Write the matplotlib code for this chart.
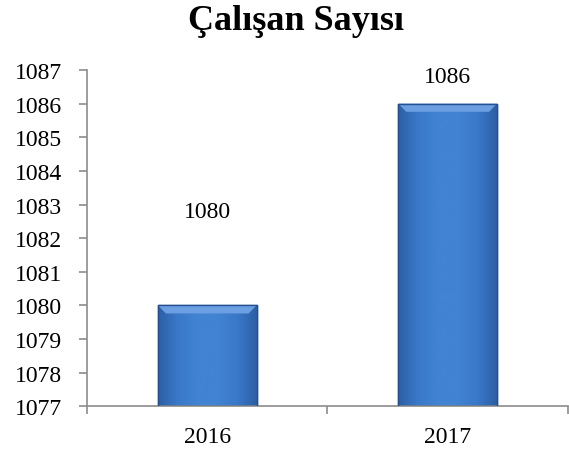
import numpy as np
import matplotlib.pyplot as plt
from matplotlib.colors import LinearSegmentedColormap

# -------------------------------
# DATA
# -------------------------------
years = ["2016", "2017"]
employees = [1080, 1086]
y_ticks = [1077, 1078, 1079, 1080, 1081, 1082, 1083, 1084, 1085, 1086, 1087]
title = "Çalışan Sayısı"

plt.rcParams['font.family'] = ['Liberation Serif', 'DejaVu Serif']

fig = plt.figure(figsize=(5.69, 4.56), dpi=100)
ax = fig.add_axes([0.153, 0.107, 0.845, 0.737])

x = np.arange(len(years))
bar_w = 0.41
base = y_ticks[0]
bars = ax.bar(x, np.array(employees) - base, bottom=base, width=bar_w,
              color='#3b78c8', edgecolor='#24508f', linewidth=1.0, zorder=2)

# bevel-like gradient across each bar
cmap = LinearSegmentedColormap.from_list(
    "bev", ["#2c5fa4", "#3a78c9", "#4283d3", "#4283d3", "#3a78c9", "#2c5fa4"])
grad = np.linspace(0, 1, 256).reshape(1, -1)
for b in bars:
    x0, y0 = b.get_x(), b.get_y()
    w, h = b.get_width(), b.get_height()
    im = ax.imshow(grad, cmap=cmap, aspect='auto', extent=[x0, x0 + w, y0, y0 + h],
                   zorder=2.5, interpolation='bicubic')
    im.set_clip_path(b)
    # lighter top bevel
    ax.fill([x0, x0 + w, x0 + w * 0.92, x0 + w * 0.08],
            [y0 + h, y0 + h, y0 + h - 0.24, y0 + h - 0.24],
            color='#6b9fe2', zorder=2.6, lw=0)
    ax.plot([x0, x0 + w, x0 + w, x0, x0], [y0, y0, y0 + h, y0 + h, y0],
            color='#24508f', lw=1.0, zorder=2.7)

# value labels (positions as in the original)
label_y = [1082.8, 1086.8]
for xi, v, ly in zip(x, employees, label_y):
    ax.text(xi, ly, str(v), ha='center', va='center', fontsize=17)

ax.set_xlim(-0.5, len(years) - 0.5)
ax.set_ylim(y_ticks[0], y_ticks[-1])
ax.set_yticks(y_ticks)
ax.set_yticklabels([str(t) for t in y_ticks], fontsize=17)
ax.set_xticks(x)
ax.set_xticklabels(years, fontsize=17)
ax.set_xticks([-0.5, 0.5, 1.5], minor=True)

for s in ['top', 'right']:
    ax.spines[s].set_visible(False)
for s in ['left', 'bottom']:
    ax.spines[s].set_color('#8c8c8c')
    ax.spines[s].set_linewidth(1.2)
ax.tick_params(axis='y', direction='out', length=6, color='#8c8c8c', width=1.2, pad=12)
ax.tick_params(axis='x', which='major', length=0, pad=14)
ax.tick_params(axis='x', which='minor', direction='out', length=6, color='#8c8c8c', width=1.2)

fig.text(0.52, 0.952, title, ha='center', va='center', fontsize=26, fontweight='bold')

fig.savefig("out.png", dpi=100)
